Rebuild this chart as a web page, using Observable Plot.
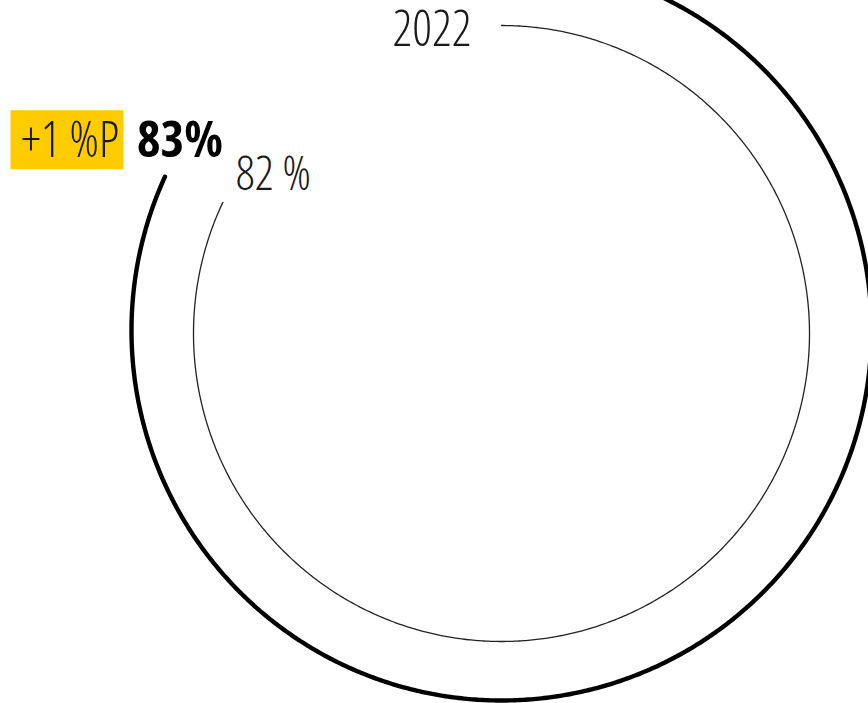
<!DOCTYPE html>
<html><head><meta charset="utf-8">
<script src="https://cdn.jsdelivr.net/npm/d3@7"></script>
<script src="https://cdn.jsdelivr.net/npm/@observablehq/plot@0.6"></script>
<style>
body{margin:0;background:#fff}
#chart svg text{font-stretch:75%}
</style>
</head><body><div id="chart"></div>
<script>
// data
const rings = ["2023", "2022"];
const values = [83, 82];
const valueLabels = ["83%", "82 %"];
const yearLabels = ["", "2022"];
const changeLabel = "+1 %P";

// layout
const W = 868, H = 703;
const center = {"2023": [501, 330], "2022": [501, 333]};
const radius = {"2023": 370, "2022": 308};
const rotation = {"2023": -1.18, "2022": 0}; // ring start offset (in % of a turn)
const point = (ring, v) => {
  const t = (v + rotation[ring]) / 100 * 2 * Math.PI;
  const [cx, cy] = center[ring];
  return {x: cx + radius[ring] * Math.sin(t), y: cy - radius[ring] * Math.cos(t)};
};
const arcs = rings.flatMap((ring, i) =>
  d3.range(0, 721).map(k => ({ring, ...point(ring, k / 720 * values[i])})));
const ends = rings.map((ring, i) => ({ring, label: valueLabels[i], ...point(ring, values[i])}));
const starts = rings.map((ring, i) => ({ring, label: yearLabels[i], ...point(ring, 0)})).filter(d => d.label);

const font = "'Open Sans', 'Liberation Sans Narrow', 'DejaVu Sans Condensed', sans-serif";
const ink = "#1a1a1a";

const chart = Plot.plot({
  width: W, height: H, margin: 0,
  x: {domain: [0, W], range: [0, W], axis: null},
  y: {domain: [0, H], range: [0, H], axis: null},
  marks: [
    Plot.line(arcs.filter(d => d.ring === "2023"), {x: "x", y: "y", stroke: "#000", strokeWidth: 4.4, clip: true}),
    Plot.line(arcs.filter(d => d.ring === "2022"), {x: "x", y: "y", stroke: "#222", strokeWidth: 1.3, clip: true}),
    Plot.rect([ends[0]], {x1: d => d.x - 154, x2: d => d.x - 41, y1: d => d.y - 66, y2: d => d.y - 7, fill: "#FFCC00"}),
    Plot.text([ends[0]], {x: "x", y: "y", text: () => changeLabel, textAnchor: "end", dx: -46, dy: -35.5, fontSize: 50, fontWeight: 300, fill: ink, fontFamily: font}),
    Plot.text([ends[0]], {x: "x", y: "y", text: "label", textAnchor: "start", dx: -28, dy: -35.5, fontSize: 50, fontWeight: "bold", fill: "#000", fontFamily: font}),
    Plot.text([ends[1]], {x: "x", y: "y", text: "label", textAnchor: "start", dx: 13, dy: -28, fontSize: 48, fontWeight: 300, fill: ink, fontFamily: font}),
    Plot.text(starts, {x: "x", y: "y", text: "label", textAnchor: "end", dx: -30, dy: 4.5, fontSize: 50, fontWeight: 300, fill: ink, fontFamily: font})
  ]
});
document.getElementById("chart").append(chart);

const lengths = {"2022": 79, "82 %": 75, "83%": 86, "+1 %P": 98};
chart.querySelectorAll("text").forEach(t => {
  const s = t.textContent;
  if (lengths[s]) { t.setAttribute("textLength", lengths[s]); t.setAttribute("lengthAdjust", "spacingAndGlyphs"); }
});
</script>
</body></html>
